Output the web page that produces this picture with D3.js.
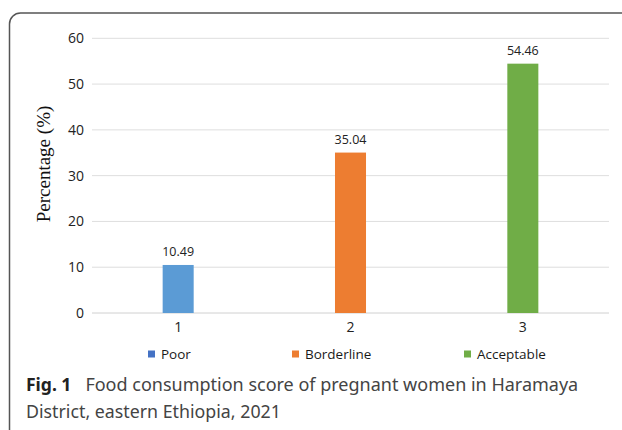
<!DOCTYPE html>
<html>
<head>
<meta charset="utf-8">
<script src="https://cdn.jsdelivr.net/npm/d3@7"></script>
<style>
  body { margin: 0; background: #fff; }
  svg { display: block; }
</style>
</head>
<body>
<div id="chart"></div>
<script>
// Food consumption score chart
const categories = ["1", "2", "3"]
const groups = ["Poor", "Borderline", "Acceptable"]
const values = [10.49, 35.04, 54.46]
const yTicks = [0, 10, 20, 30, 40, 50, 60]

const barColors = ["#5b9bd5", "#ed7d31", "#70ad47"]
const legendColors = ["#4472c4", "#ed7d31", "#70ad47"]

const width = 622
const height = 430
const plot = {left: 92, right: 609, top: 38.3, bottom: 313}

var svg = d3.select("#chart").append("svg")
    .attr("width", width)
    .attr("height", height)

// figure frame (rounded, runs off the right and bottom)
svg.append("rect")
    .attr("x", 9.5).attr("y", 13)
    .attr("width", 700).attr("height", 427)
    .attr("rx", 11)
    .attr("fill", "none")
    .attr("stroke", "#555")
    .attr("stroke-width", 1.5)

var x = d3.scaleBand().domain(categories).range([plot.left, plot.right]).padding(0)
var y = d3.scaleLinear().domain([0, 60]).range([plot.bottom, plot.top])
var barW = x.bandwidth() * 0.18

// gridlines
svg.append("g").selectAll("line")
    .data(yTicks)
    .enter().append("line")
    .attr("x1", plot.left).attr("x2", plot.right)
    .attr("y1", d => y(d)).attr("y2", d => y(d))
    .attr("stroke", d => d == 0 ? "#d0d0d0" : "#dedede")
    .attr("stroke-width", 1)

var yAxis = d3.axisLeft(y).tickValues(yTicks).tickSize(0).tickPadding(8)
var gy = svg.append("g").attr("transform", "translate(" + plot.left + ",0)").call(yAxis)
gy.select(".domain").remove()
gy.selectAll("text")
    .attr("font-family", "Open Sans, Noto Sans, sans-serif")
    .attr("font-size", 14)
    .attr("fill", "#222")

var xAxis = d3.axisBottom(x).tickSize(0).tickPadding(9)
var gx = svg.append("g").attr("transform", "translate(0," + plot.bottom + ")").call(xAxis)
gx.select(".domain").remove()
gx.selectAll("text")
    .attr("font-family", "Open Sans, Noto Sans, sans-serif")
    .attr("font-size", 14)
    .attr("fill", "#222")

// bars
svg.append("g").selectAll("rect")
    .data(values)
    .enter().append("rect")
    .attr("x", (d, i) => x(categories[i]) + x.bandwidth() / 2 - barW / 2)
    .attr("y", d => y(d))
    .attr("width", barW)
    .attr("height", d => y(0) - y(d))
    .attr("fill", (d, i) => barColors[i])

// value labels
svg.append("g").selectAll("text")
    .data(values)
    .enter().append("text")
    .attr("x", (d, i) => x(categories[i]) + x.bandwidth() / 2)
    .attr("y", d => y(d) - 9)
    .attr("text-anchor", "middle")
    .attr("font-family", "Open Sans, Noto Sans, sans-serif")
    .attr("font-size", 12.5)
    .attr("fill", "#222")
    .text(d => d.toFixed(2))

// y title
svg.append("text")
    .attr("transform", "translate(50,164) rotate(-90)")
    .attr("text-anchor", "middle")
    .attr("font-family", "Liberation Serif, Times New Roman, serif")
    .attr("font-size", 19)
    .attr("fill", "#111")
    .text("Percentage (%)")

// legend
var legendX = [148, 292, 464]
var legend = svg.append("g").selectAll("g")
    .data(groups)
    .enter().append("g")
    .attr("transform", (d, i) => "translate(" + legendX[i] + ",354)")
legend.append("rect")
    .attr("x", 0).attr("y", -3.5)
    .attr("width", 7).attr("height", 7)
    .attr("fill", (d, i) => legendColors[i])
legend.append("text")
    .attr("x", 13).attr("y", 0)
    .attr("dy", "0.35em")
    .attr("font-family", "Open Sans, Noto Sans, sans-serif")
    .attr("font-size", 13.5)
    .attr("fill", "#1a1a1a")
    .text(d => d)

// caption
var cap = svg.append("text")
    .attr("x", 26).attr("y", 390.5)
    .attr("font-family", "Noto Sans, Open Sans, sans-serif")
    .attr("font-size", 18)
    .attr("fill", "#444")
cap.append("tspan").attr("font-weight", "bold").attr("font-size", 17.5).attr("fill", "#222").text("Fig. 1")
cap.append("tspan").attr("dx", 14).text("Food consumption score of pregnant women in Haramaya")
svg.append("text")
    .attr("x", 26).attr("y", 418)
    .attr("font-family", "Noto Sans, Open Sans, sans-serif")
    .attr("font-size", 17.8)
    .attr("fill", "#444")
    .text("District, eastern Ethiopia, 2021")
</script>
</body>
</html>
